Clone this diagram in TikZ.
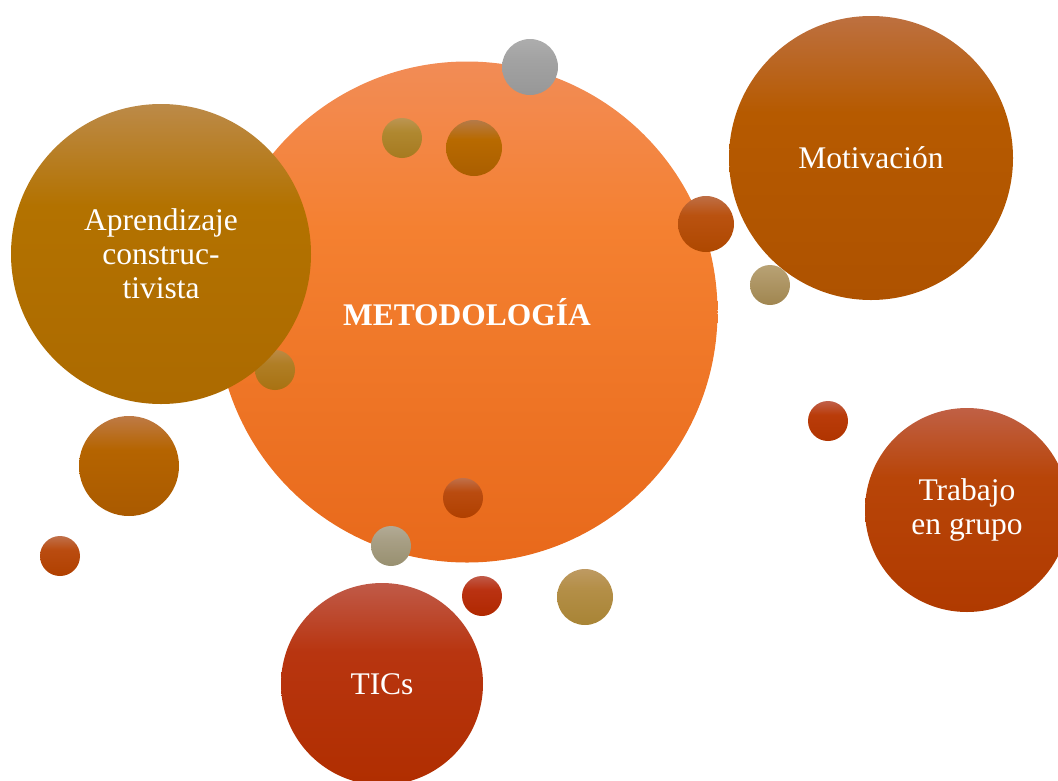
\documentclass[tikz,border=0pt]{standalone}
\usepackage{fontspec}
\setmainfont{Liberation Serif}
\newcommand{\mkcol}[4]{\definecolor{#1T}{HTML}{#2}\definecolor{#1M}{HTML}{#3}\definecolor{#1B}{HTML}{#4}}
\mkcol{o}{F28C56}{F48030}{E8691B}
\mkcol{g}{BC8A48}{B37200}{AC6A00}
\mkcol{b}{BD7040}{B65A00}{AE5200}
\mkcol{r}{C06045}{B84508}{B03A00}
\mkcol{t}{C05A48}{B83510}{B02E00}
\mkcol{sa}{BB8A45}{B07E25}{A87212}
\mkcol{sb}{ADADAD}{A3A3A3}{979797}
\mkcol{sc}{BC9552}{B08830}{A67A20}
\mkcol{sd}{B57A48}{B86A00}{AA5E00}
\mkcol{se}{BE6E45}{BA5210}{AE4800}
\mkcol{sf}{B8A275}{B09868}{A08650}
\mkcol{sg}{BE7A45}{B56400}{AA5A00}
\mkcol{sh}{C0704A}{BA4C10}{B04000}
\mkcol{si}{B2AA95}{A89F85}{989070}
\mkcol{sj}{C05A48}{BA3212}{B02800}
\mkcol{sk}{BE9A62}{B48F48}{A88435}
\mkcol{sl}{C0604A}{BA3C0A}{B03400}
\colorlet{bubT}{white}\colorlet{bubM}{white}\colorlet{bubB}{white}
\pgfdeclareverticalshading[bubT,bubM,bubB]{bubble}{100bp}{color(0bp)=(bubB); color(25bp)=(bubB); color(58bp)=(bubM); color(75bp)=(bubT); color(100bp)=(bubT)}
\begin{document}
\begin{tikzpicture}[x=1pt,y=-1pt,
  bub/.style={circle,inner sep=0pt,draw=none,minimum size=#1,text=white,align=center,
    font=\fontsize{31.5}{34}\selectfont},
  col/.style={/utils/exec={\colorlet{bubT}{#1T}\colorlet{bubM}{#1M}\colorlet{bubB}{#1B}},shade,shading=bubble}]
\useasboundingbox (0,0) rectangle (1058,780);
\clip (0,0) rectangle (1058,780);
% central
\node[bub=501pt,col=o] (met) at (467,312) {\bfseries METODOLOGÍA};
\node[bub=40pt,col=sa] (s1) at (275,370) {};
\node[bub=300pt,col=g] (apr) at (161,254) {Aprendizaje\\construc-\\tivista};
\node[bub=284pt,col=b] (mot) at (871,158) {Motivación};
\node[bub=204pt,col=r] (tra) at (967,510) {Trabajo\\en grupo};
\node[bub=202pt,col=t] (tic) at (382,684) {TICs};
% small bubbles
\node[bub=56pt,col=sb] (s2) at (530,67) {};
\node[bub=40pt,col=sc] (s3) at (402,138) {};
\node[bub=56pt,col=sd] (s4) at (474,148) {};
\node[bub=56pt,col=se] (s5) at (706,224) {};
\node[bub=40pt,col=sf] (s6) at (770,285) {};
\node[bub=100pt,col=sg] (s7) at (129,466) {};
\node[bub=40pt,col=sh] (s8) at (60,556) {};
\node[bub=40pt,col=sh] (s9) at (463,498) {};
\node[bub=40pt,col=si] (s10) at (391,546) {};
\node[bub=40pt,col=sj] (s11) at (482,596) {};
\node[bub=56pt,col=sk] (s12) at (585,597) {};
\node[bub=40pt,col=sl] (s13) at (828,421) {};
\end{tikzpicture}
\end{document}
